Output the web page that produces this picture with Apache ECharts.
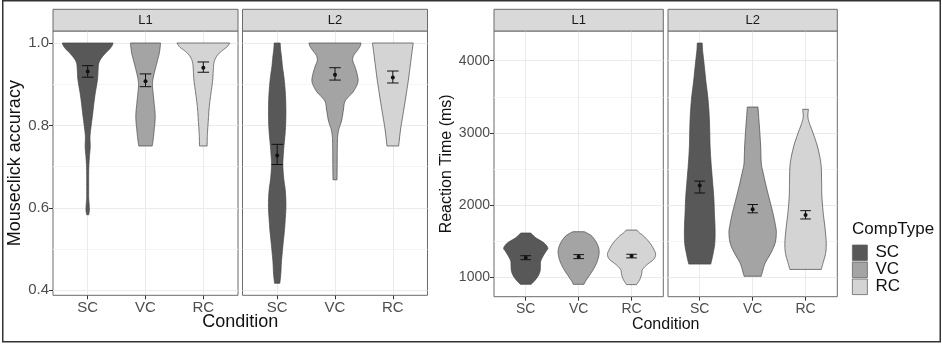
<!DOCTYPE html>
<html><head><meta charset="utf-8">
<script src="https://cdn.jsdelivr.net/npm/echarts@6/dist/echarts.min.js"></script>
<style>html,body{margin:0;padding:0;background:#fff}#c{width:942px;height:344px}</style>
</head><body><div id="c"></div>
<script>
// ---------------- data ----------------
const categories = ['SC', 'VC', 'RC'];
const facets = ['L1', 'L2'];
const accTicks = [0.4, 0.6, 0.8, 1.0];
const accMinorTicks = [0.5, 0.7, 0.9];
const rtTicks = [1000, 2000, 3000, 4000];
const rtMinorTicks = [1500, 2500, 3500];

// violin outlines: value (bottom -> top) and half-width (category units)
const accL1_SC_y = [0.583, 0.595, 0.611, 0.627, 0.652, 0.676, 0.700, 0.724, 0.748, 0.773, 0.797, 0.829, 0.869, 0.910, 0.934, 0.950, 0.962, 0.974, 0.984, 0.992, 1.0];
const accL1_SC_w = [0.017, 0.030, 0.024, 0.017, 0.017, 0.017, 0.020, 0.030, 0.044, 0.040, 0.058, 0.087, 0.121, 0.168, 0.180, 0.190, 0.230, 0.300, 0.370, 0.416, 0.440];
const accL1_VC_y = [0.75, 0.760, 0.773, 0.789, 0.805, 0.821, 0.837, 0.853, 0.869, 0.885, 0.898, 0.910, 0.926, 0.942, 0.958, 0.974, 0.990, 1.0];
const accL1_VC_w = [0.116, 0.127, 0.139, 0.150, 0.162, 0.168, 0.162, 0.150, 0.139, 0.127, 0.121, 0.127, 0.150, 0.179, 0.208, 0.237, 0.254, 0.260];
const accL1_RC_y = [0.75, 0.773, 0.789, 0.813, 0.837, 0.861, 0.885, 0.910, 0.934, 0.950, 0.962, 0.973, 0.982, 0.990, 0.997, 1.0];
const accL1_RC_w = [0.066, 0.069, 0.075, 0.087, 0.098, 0.116, 0.139, 0.162, 0.173, 0.182, 0.208, 0.260, 0.330, 0.405, 0.445, 0.455];
const accL2_SC_y = [0.4167, 0.442, 0.466, 0.490, 0.515, 0.547, 0.571, 0.595, 0.619, 0.644, 0.668, 0.692, 0.708, 0.724, 0.748, 0.773, 0.797, 0.821, 0.845, 0.869, 0.894, 0.918, 0.942, 0.966, 0.986, 1.0];
const accL2_SC_w = [0.046, 0.064, 0.072, 0.087, 0.104, 0.127, 0.139, 0.150, 0.150, 0.139, 0.116, 0.101, 0.098, 0.104, 0.116, 0.133, 0.145, 0.150, 0.150, 0.145, 0.133, 0.116, 0.092, 0.075, 0.058, 0.052];
const accL2_VC_y = [0.668, 0.708, 0.748, 0.773, 0.789, 0.797, 0.813, 0.837, 0.857, 0.869, 0.881, 0.898, 0.910, 0.926, 0.942, 0.958, 0.970, 0.982, 0.992, 1.0];
const accL2_VC_w = [0.035, 0.038, 0.040, 0.046, 0.064, 0.081, 0.116, 0.145, 0.168, 0.231, 0.312, 0.380, 0.400, 0.380, 0.347, 0.306, 0.324, 0.387, 0.434, 0.450];
const accL2_RC_y = [0.75, 0.789, 0.829, 0.869, 0.910, 0.950, 0.982, 1.0];
const accL2_RC_w = [0.101, 0.133, 0.179, 0.225, 0.269, 0.306, 0.335, 0.353];

const rtL1_SC_y = [898, 944, 1013, 1082, 1151, 1220, 1289, 1357, 1403, 1472, 1541, 1587, 1610];
const rtL1_SC_w = [0.101, 0.164, 0.234, 0.271, 0.278, 0.284, 0.328, 0.385, 0.417, 0.347, 0.196, 0.126, 0.095];
const rtL1_VC_y = [898, 944, 1013, 1105, 1197, 1289, 1380, 1472, 1564, 1610, 1628];
const rtL1_VC_w = [0.101, 0.133, 0.196, 0.278, 0.341, 0.379, 0.385, 0.341, 0.253, 0.158, 0.107];
const rtL1_RC_y = [894, 967, 1036, 1105, 1174, 1243, 1311, 1380, 1472, 1564, 1619, 1651];
const rtL1_RC_w = [0.095, 0.158, 0.189, 0.208, 0.297, 0.417, 0.455, 0.423, 0.347, 0.234, 0.139, 0.101];
const rtL2_SC_y = [1179, 1258, 1327, 1465, 1650, 1881, 2112, 2342, 2573, 2804, 3035, 3266, 3497, 3728, 3958, 4143, 4245];
const rtL2_SC_w = [0.208, 0.234, 0.253, 0.284, 0.290, 0.278, 0.265, 0.240, 0.215, 0.196, 0.189, 0.177, 0.152, 0.114, 0.082, 0.054, 0.047];
const rtL2_VC_y = [1010, 1050, 1188, 1327, 1465, 1604, 1696, 1881, 2065, 2250, 2435, 2573, 2804, 3035, 3220, 3358];
const rtL2_VC_w = [0.164, 0.177, 0.234, 0.341, 0.423, 0.448, 0.436, 0.385, 0.322, 0.259, 0.202, 0.164, 0.152, 0.133, 0.114, 0.101];
const rtL2_RC_y = [1105, 1188, 1327, 1465, 1650, 1881, 2112, 2342, 2573, 2804, 2989, 3127, 3220, 3326];
const rtL2_RC_w = [0.297, 0.328, 0.379, 0.391, 0.372, 0.335, 0.309, 0.303, 0.290, 0.227, 0.145, 0.076, 0.044, 0.054];

// means and error bars (SC, VC, RC)
const accMean_L1 = [0.931, 0.907, 0.940];
const accLo_L1   = [0.917, 0.894, 0.929];
const accHi_L1   = [0.945, 0.925, 0.954];
const accMean_L2 = [0.727, 0.923, 0.916];
const accLo_L2   = [0.705, 0.910, 0.903];
const accHi_L2   = [0.754, 0.940, 0.932];
const rtMean_L1 = [1267, 1281, 1290];
const rtLo_L1   = [1240, 1255, 1265];
const rtHi_L1   = [1295, 1310, 1315];
const rtMean_L2 = [2270, 1940, 1860];
const rtLo_L2   = [2165, 1890, 1805];
const rtHi_L2   = [2330, 2005, 1920];

// ---------------- build ----------------
const fills = ['#585858', '#a4a4a4', '#d4d4d4'];
const FONT = '"Liberation Sans", Arial, Helvetica, sans-serif';

const panels = [
  { grid: {left: 53, top: 31, width: 185, height: 264.3}, facet: 0, chart: 'acc',
    violins: [[accL1_SC_y, accL1_SC_w], [accL1_VC_y, accL1_VC_w], [accL1_RC_y, accL1_RC_w]],
    mean: accMean_L1, lo: accLo_L1, hi: accHi_L1 },
  { grid: {left: 242.5, top: 31, width: 185, height: 264.3}, facet: 1, chart: 'acc',
    violins: [[accL2_SC_y, accL2_SC_w], [accL2_VC_y, accL2_VC_w], [accL2_RC_y, accL2_RC_w]],
    mean: accMean_L2, lo: accLo_L2, hi: accHi_L2 },
  { grid: {left: 494, top: 31, width: 169.3, height: 265.7}, facet: 0, chart: 'rt',
    violins: [[rtL1_SC_y, rtL1_SC_w], [rtL1_VC_y, rtL1_VC_w], [rtL1_RC_y, rtL1_RC_w]],
    mean: rtMean_L1, lo: rtLo_L1, hi: rtHi_L1 },
  { grid: {left: 668, top: 31, width: 169.3, height: 265.7}, facet: 1, chart: 'rt',
    violins: [[rtL2_SC_y, rtL2_SC_w], [rtL2_VC_y, rtL2_VC_w], [rtL2_RC_y, rtL2_RC_w]],
    mean: rtMean_L2, lo: rtLo_L2, hi: rtHi_L2 }
];

function rangeOf(chart) {
  let mn = Infinity, mx = -Infinity;
  panels.filter(p => p.chart === chart).forEach(p => p.violins.forEach(v => v[0].forEach(y => {
    mn = Math.min(mn, y); mx = Math.max(mx, y);
  })));
  const pad = (mx - mn) * 0.05;
  return [mn - pad, mx + pad];
}
const accRange = rangeOf('acc');
const rtRange = rangeOf('rt');

function catmull(pts) {
  const out = [];
  const n = pts.length;
  for (let i = 0; i < n - 1; i++) {
    const p0 = pts[Math.max(i - 1, 0)], p1 = pts[i], p2 = pts[i + 1], p3 = pts[Math.min(i + 2, n - 1)];
    for (let k = 0; k < 8; k++) {
      const t = k / 8, t2 = t * t, t3 = t2 * t;
      const f = j => 0.5 * (2 * p1[j] + (-p0[j] + p2[j]) * t + (2 * p0[j] - 5 * p1[j] + 4 * p2[j] - p3[j]) * t2 + (-p0[j] + 3 * p1[j] - 3 * p2[j] + p3[j]) * t3);
      out.push([f(0), f(1)]);
    }
  }
  out.push(pts[n - 1]);
  return out;
}

const grids = [], xAxes = [], yAxes = [], series = [];
panels.forEach((p, i) => {
  const isAcc = p.chart === 'acc';
  const fs = isAcc ? 15 : 14;
  const rng = isAcc ? accRange : rtRange;
  grids.push(Object.assign({show: true, borderColor: '#6b6b6b', borderWidth: 1, backgroundColor: 'transparent'}, p.grid));
  xAxes.push({
    gridIndex: i, type: 'value', min: -0.6, max: 2.6, position: 'bottom',
    axisLine: {show: false, onZero: false},
    axisTick: {show: true, customValues: [0, 1, 2], length: 4, lineStyle: {color: '#333', width: 1}},
    axisLabel: {customValues: [0, 1, 2], formatter: v => categories[Math.round(v)] || '',
      fontSize: fs, color: '#4d4d4d', fontFamily: FONT, margin: 5},
    splitLine: {show: true, lineStyle: {color: '#ebebeb', width: 1}}
  });
  const first = p.facet === 0;
  const ticks = isAcc ? accTicks : rtTicks;
  const minor = isAcc ? accMinorTicks : rtMinorTicks;
  yAxes.push({
    gridIndex: i, type: 'value', min: rng[0], max: rng[1], position: 'left',
    axisLine: {show: false, onZero: false},
    axisTick: {show: first, customValues: ticks, length: 4, lineStyle: {color: '#333', width: 1}},
    axisLabel: {show: first, customValues: ticks, fontSize: fs, color: '#4d4d4d', fontFamily: FONT, margin: 4,
      formatter: v => isAcc ? v.toFixed(1) : String(Math.round(v))},
    splitLine: {show: true, lineStyle: {color: '#ebebeb', width: 1}},
    name: first ? (isAcc ? 'Mouseclick accuracy' : 'Reaction Time (ms)') : '',
    nameLocation: 'middle', nameRotate: 90, nameGap: isAcc ? 19 : 34,
    nameTextStyle: {fontSize: isAcc ? 18 : 16, color: '#111', fontFamily: FONT}
  });
  yAxes.push({
    gridIndex: i, type: 'value', min: rng[0], max: rng[1], position: 'left',
    axisLine: {show: false, onZero: false},
    axisTick: {show: false, customValues: minor},
    axisLabel: {show: false, customValues: minor},
    splitLine: {show: true, lineStyle: {color: '#f5f5f5', width: 1}}
  });
  const yIdxMain = yAxes.length - 2, yIdxMinor = yAxes.length - 1;
  p.violins.forEach((v, c) => {
    const ys = v[0], ws = v[1];
    series.push({
      type: 'custom', name: categories[c], xAxisIndex: i, yAxisIndex: yIdxMain,
      itemStyle: {color: fills[c]},
      data: [[c, ys[0]]],
      z: 2,
      renderItem: (params, api) => {
        const cx = api.value(0);
        const right = ys.map((y, k) => api.coord([cx + ws[k], y]));
        const left = ys.map((y, k) => api.coord([cx - ws[k], y]));
        const R = catmull(right), L = catmull(left).reverse();
        return {type: 'polygon', shape: {points: R.concat(L)},
          style: {fill: fills[c], stroke: '#444', lineWidth: 0.7}};
      }
    });
  });
  series.push({
    type: 'custom', name: 'minor', xAxisIndex: i, yAxisIndex: yIdxMinor, data: [], silent: true,
    renderItem: () => null
  });
  series.push({
    type: 'custom', name: 'errorbar', xAxisIndex: i, yAxisIndex: yIdxMain, z: 5,
    data: p.mean.map((m, c) => [c, m, p.lo[c], p.hi[c]]),
    renderItem: (params, api) => {
      const c = api.value(0);
      const pm = api.coord([c, api.value(1)]);
      const pl = api.coord([c, api.value(2)]);
      const ph = api.coord([c, api.value(3)]);
      const l1 = api.coord([c - 0.1, api.value(2)]), r1 = api.coord([c + 0.1, api.value(2)]);
      const l2 = api.coord([c - 0.1, api.value(3)]), r2 = api.coord([c + 0.1, api.value(3)]);
      const st = {stroke: '#111', lineWidth: 1};
      return {type: 'group', children: [
        {type: 'line', shape: {x1: pl[0], y1: pl[1], x2: ph[0], y2: ph[1]}, style: st},
        {type: 'line', shape: {x1: l1[0], y1: l1[1], x2: r1[0], y2: r1[1]}, style: st},
        {type: 'line', shape: {x1: l2[0], y1: l2[1], x2: r2[0], y2: r2[1]}, style: st},
        {type: 'circle', shape: {cx: pm[0], cy: pm[1], r: 2}, style: {fill: '#111'}}
      ]};
    }
  });
});

const graphics = [];
panels.forEach((p, i) => {
  const g = p.grid;
  graphics.push({type: 'rect', shape: {x: g.left, y: 9.3, width: g.width, height: 21.7},
    style: {fill: '#d9d9d9', stroke: '#6b6b6b', lineWidth: 1}, z: 10});
  graphics.push({type: 'text', x: g.left + g.width / 2, y: 20.5, z: 11,
    style: {text: facets[p.facet], font: '13px ' + FONT, fill: '#1a1a1a',
      textAlign: 'center', textVerticalAlign: 'middle', align: 'center', verticalAlign: 'middle'}});
});
graphics.push({type: 'text', x: 240.2, y: 322.5, z: 11,
  style: {text: 'Condition', font: '18px ' + FONT, fill: '#111',
    textAlign: 'center', textVerticalAlign: 'middle', align: 'center', verticalAlign: 'middle'}});
graphics.push({type: 'text', x: 665.7, y: 324.5, z: 11,
  style: {text: 'Condition', font: '16px ' + FONT, fill: '#111',
    textAlign: 'center', textVerticalAlign: 'middle', align: 'center', verticalAlign: 'middle'}});
graphics.push({type: 'text', x: 852, y: 229, z: 11,
  style: {text: 'CompType', font: '17px ' + FONT, fill: '#111',
    textAlign: 'left', textVerticalAlign: 'middle', align: 'left', verticalAlign: 'middle'}});
graphics.push({type: 'rect', shape: {x: 2.75, y: 0.75, width: 937.5, height: 341},
  style: {fill: 'none', stroke: '#333', lineWidth: 1.5}, z: 12});

const chart = echarts.init(document.getElementById('c'), null, {renderer: 'canvas'});
chart.setOption({
  animation: false,
  backgroundColor: '#fff',
  grid: grids,
  xAxis: xAxes,
  yAxis: yAxes,
  legend: {
    data: categories.map((c, k) => ({name: c, itemStyle: {color: fills[k], borderColor: '#666', borderWidth: 0.8}})),
    orient: 'vertical', left: 852, top: 244.3, itemGap: 0, itemWidth: 15, itemHeight: 15.6,
    icon: 'rect', selectedMode: false, padding: 0,
    textStyle: {fontSize: 17, color: '#111', fontFamily: FONT, lineHeight: 15.6, padding: [0, 0, 0, 3]}
  },
  graphic: graphics,
  series: series
});
</script>
</body></html>
